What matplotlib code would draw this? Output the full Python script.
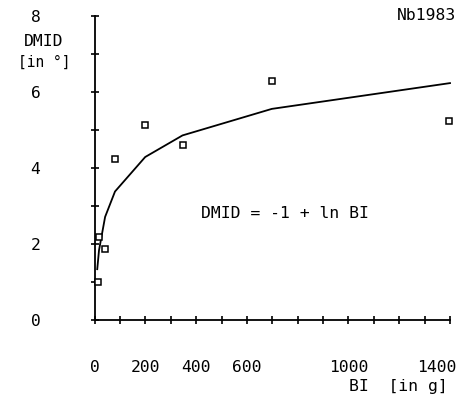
import matplotlib
matplotlib.use("Agg")
import matplotlib.pyplot as plt
import matplotlib.transforms as mtransforms

# Data
bi = [12, 17, 41, 80, 199, 346, 698, 1397]          # BI [in g]
dmid = [0.98, 2.17, 1.85, 4.23, 5.13, 4.60, 6.30, 5.24]  # DMID [in deg]

# Fitted curve DMID = -1 + ln BI
fit_x = [10, 17, 41, 80, 199, 346, 698, 1400]
fit_y = [1.33, 1.83, 2.71, 3.38, 4.29, 4.86, 5.56, 6.24]

xticks_major = [0, 200, 400, 600, 1000, 1400]
xtick_labels = ["0", "200", "400", "600", "1000", "1400"]
xticks_minor = list(range(0, 1401, 100))
yticks_major = [0, 2, 4, 6, 8]
ytick_labels = ["0", "2", "4", "6", "8"]
yticks_minor = list(range(0, 9))

W, H = 477, 401
plt.rcParams['font.family'] = ['DejaVu Sans Mono']
fig = plt.figure(figsize=(W / 100, H / 100), dpi=100)

x0, x1 = 94.7, 450.0
y0, y1 = 319.6, 16.4
ax = fig.add_axes([x0 / W, 1 - y0 / H, (x1 - x0) / W, (y0 - y1) / H])
ax.set_xlim(0, 1400)
ax.set_ylim(0, 8)
for s in ['top', 'right']:
    ax.spines[s].set_visible(False)
for s in ['left', 'bottom']:
    ax.spines[s].set_linewidth(1.3)
ax.patch.set_alpha(0)

ax.plot(fit_x, fit_y, color='black', lw=1.3, clip_on=False)
ax.plot(bi, dmid, linestyle='none', marker='s', markersize=4.2,
        markerfacecolor='white', markeredgecolor='black', markeredgewidth=1.1,
        clip_on=False, zorder=3)

fs = 11.8
ax.set_xticks(xticks_minor, minor=True)
ax.set_xticks(xticks_major)
ax.set_xticklabels(xtick_labels, fontsize=fs)
ax.set_yticks(yticks_minor, minor=True)
ax.set_yticks(yticks_major)
ax.set_yticklabels(ytick_labels, fontsize=fs)
ax.tick_params(axis='both', which='both', direction='inout', length=6, width=1.2, color='black')
ax.tick_params(axis='x', which='major', pad=26)
ax.tick_params(axis='y', which='major', pad=36)

# shift last x label left as in the reference
lbl = ax.get_xticklabels()[-1]
lbl.set_transform(lbl.get_transform() + mtransforms.ScaledTranslation(-13 / 100, 0, fig.dpi_scale_trans))

def px(x, y):
    return x / W, 1 - y / H

fig.text(*px(44, 41), "DMID", ha='center', va='center', fontsize=fs)
fig.text(*px(44, 62), "[in °]", ha='center', va='center', fontsize=10.5)
fig.text(*px(427, 16), "Nb1983", ha='center', va='center', fontsize=fs)
fig.text(*px(285, 214), "DMID = -1 + ln BI", ha='center', va='center', fontsize=fs)
fig.text(*px(398, 386), "BI  [in g]", ha='center', va='center', fontsize=fs)

fig.savefig("out.png", dpi=100)
